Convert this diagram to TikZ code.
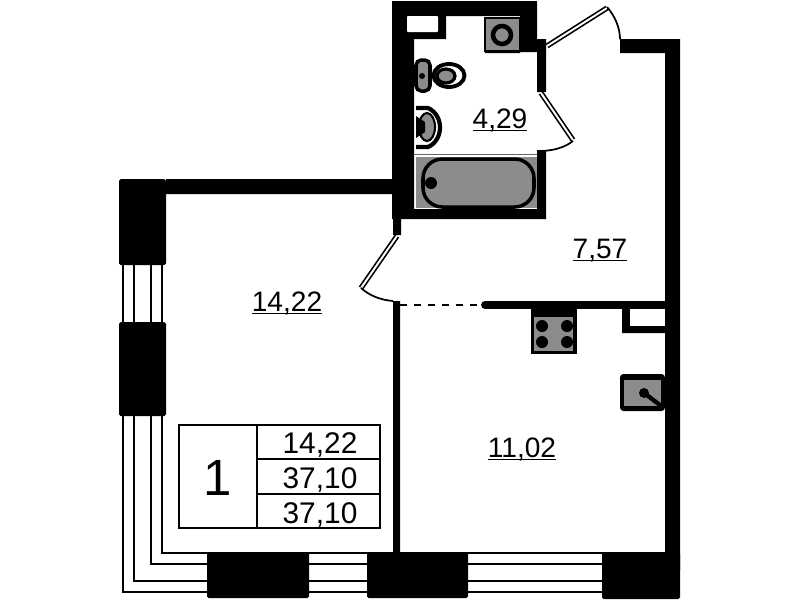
\documentclass[tikz,border=0pt]{standalone}
\usepackage{fontspec}
\setmainfont{Liberation Sans}
\def\wallpath{(392,1) rectangle (537,16) (392,1) rectangle (414,219) (392,209) rectangle (546,219)
  (537,39) rectangle (546,92) (537,150) rectangle (546,219)
  (414,16) rectangle (446,39) (520,16) rectangle (537,52) (485,50) rectangle (520,53)
  (620,39) rectangle (680,53) (665,39) rectangle (680,570)
  (166,179) rectangle (393,194) (393,179) rectangle (401,235)
  (393,301) rectangle (400,553) (622,309) rectangle (665,333)}
\tikzset{
  wall/.style={fill=black, draw=none},
  block/.style={fill=black, rounded corners=1pt},
  winline/.style={draw=black, line width=1pt},
  fixture/.style={fill=black!45, draw=black, line width=1.4pt},
  leaf/.style={draw=black, line width=3pt, postaction={draw=white, line width=1.1pt}},
  swing/.style={draw=black, line width=1pt},
  area/.style={font=\fontsize{16}{16}\selectfont, anchor=base},
  cell/.style={font=\fontsize{17}{17}\selectfont, anchor=base},
  frame/.style={draw=black, line width=1pt}
}
\begin{document}
\begin{tikzpicture}[x=0.02cm, y=-0.02cm]
\useasboundingbox (0,0) rectangle (799,600);
% window lines
\foreach \xa/\ya in {123/592, 134/581, 151/564, 162/553}
  \draw[winline] (\xa,265) -- (\xa,\ya) -- (670,\ya);
% walls
\fill[wall] \wallpath;
\fill[white, rounded corners=0.5pt] (407,16) rectangle (438,32);
\fill[white] (630,309) rectangle (665,326);
\draw[black, line width=4.4pt, line cap=round] (485,305) -- (665,305);
% blocks
\foreach \xa/\ya/\xb/\yb in {119/179/166/265, 119/322/166/416, 207/552/309/598, 367/552/468/598, 602/552/680/599}
  \fill[block] (\xa,\ya) rectangle (\xb,\yb);
% doors
\draw[leaf] (547,46) -- (607,8);
\draw[swing] (607,7) .. controls (615,16) and (620,28) .. (620,39);
\draw[leaf] (541,93) -- (573,140);
\draw[swing] (573,141) .. controls (564,148) and (552,151) .. (539,151);
\draw[leaf] (397,236) -- (361,288);
\draw[swing] (361,288) .. controls (370,296) and (381,300) .. (393,301);
\draw[black, line width=0.9pt, dash pattern=on 4pt off 4pt] (400,305) -- (483,305);
% bath
\draw[black!60, line width=0.5pt] (414,154) -- (537,154);
\fill[black!45] (416,157) rectangle (537,208);
\draw[fixture, line width=2pt, rounded corners=11pt] (423,159) rectangle (534,207);
\fill[black] (431,183) circle (6);
% washing machine
\fill[fixture] (485,18) rectangle (520,51);
\draw[black, line width=2.6pt, fill=black!45] (502,35) circle (9);
% toilet
\draw[fixture, line width=2pt, rounded corners=3pt] (416,60) rectangle (430,91);
\fill[black] (422,76) circle (3);
\draw[black, line width=2.2pt, fill=white] (449,75.5) ellipse (15.5 and 11.5);
\draw[black, line width=1.8pt, fill=black!45] (446,76) ellipse (9 and 7);
% bidet
\draw[black, line width=2.4pt, fill=white] (416,108) -- (428,108) .. controls (444,115) and (444,140) .. (428,147) -- (416,147);
\draw[black, line width=1.2pt, fill=black!45] (427,127) ellipse (8 and 14);
\fill[black] (416,116) -- (425,122) -- (425,132) -- (416,138) -- cycle;
% hob
\fill[black] (531,309) rectangle (577,354);
\fill[black!45] (534,317) rectangle (573,351);
\foreach \xa/\ya in {542/326, 567/326, 542/342, 567/342}
  \fill[black] (\xa,\ya) circle (6);
% sink
\fill[black, rounded corners=2pt] (620,374) rectangle (665,411);
\fill[black!45] (624,380) rectangle (661,406);
\fill[black] (644,393) circle (5);
\draw[black, line width=2.4pt, line cap=round] (644,393) -- (660,405);
% table
\draw[frame] (179,425) rectangle (380,528);
\draw[frame] (257,425) -- (257,528);
\draw[frame] (257,459) -- (380,459);
\draw[frame] (257,494) -- (380,494);
\node[anchor=base, font=\fontsize{29}{29}\selectfont] (roomcount) at (218,495) {1};
\node[cell] (livingcell) at (320,453) {14,22};
\node[cell] (totalcell) at (320,488) {37,10};
\node[cell] (fullcell) at (320,523) {37,10};
% room areas
\node[area] (bathroom) at (500,128) {\underline{\smash{4,29}}};
\node[area] (hall) at (600,258) {\underline{\smash{7,57}}};
\node[area] (living) at (287,311) {\underline{\smash{14,22}}};
\node[area] (kitchen) at (522,457) {\underline{\smash{11,02}}};
\end{tikzpicture}
\end{document}
